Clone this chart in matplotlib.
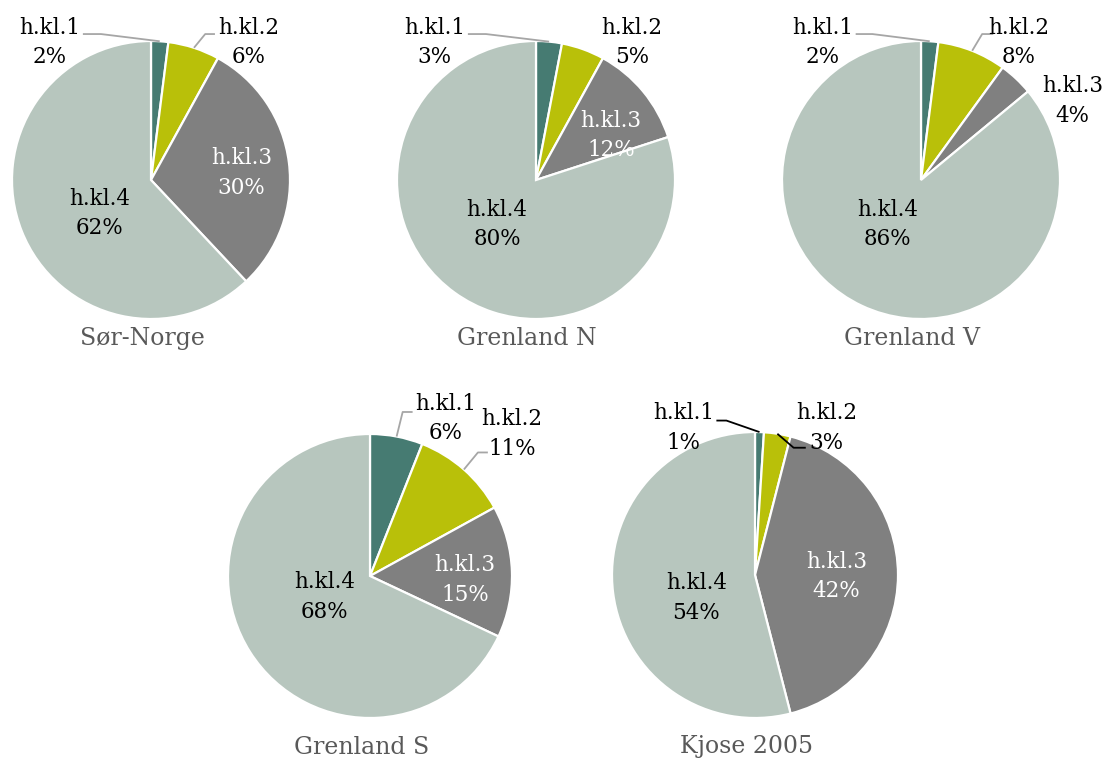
import numpy as np
import matplotlib
matplotlib.use("Agg")
import matplotlib.pyplot as plt

# Share of each class (h.kl.1 .. h.kl.4) per region, in percent
classes = ["h.kl.1", "h.kl.2", "h.kl.3", "h.kl.4"]
regions = ["Sør-Norge", "Grenland N", "Grenland V", "Grenland S", "Kjose 2005"]
sor_norge = [2, 6, 30, 62]
grenland_n = [3, 5, 12, 80]
grenland_v = [2, 8, 4, 86]
grenland_s = [6, 11, 15, 68]
kjose_2005 = [1, 3, 42, 54]
series = [sor_norge, grenland_n, grenland_v, grenland_s, kjose_2005]

colors = ["#467B72", "#B9C009", "#808080", "#B7C6BE"]
text_colors = ["black", "black", "white", "black"]
title_color = "#595959"

W, H = 1104, 763
FONT = "DejaVu Serif"

# Pie placement: (center x, center y, radius) in pixels from top-left
placement = [
    (151, 180, 139),
    (536, 180, 139),
    (921, 180, 139),
    (370, 576, 142),
    (755, 575, 143),
]
title_y = [338, 338, 338, 747, 747]

# Label block centres, in units of the radius relative to the pie centre
label_pos = [
    [(-0.73, 0.99), (0.70, 0.99), (0.65, 0.05), (-0.37, -0.24)],
    [(-0.73, 0.99), (0.69, 0.99), (0.54, 0.32), (-0.28, -0.32)],
    [(-0.71, 0.99), (0.70, 0.99), (1.09, 0.57), (-0.24, -0.32)],
    [(0.53, 1.11), (1.00, 1.00), (0.67, -0.03), (-0.32, -0.15)],
    [(-0.50, 1.03), (0.50, 1.03), (0.57, -0.01), (-0.41, -0.16)],
]
label_color_override = {(2, 2): "black"}

# Leader lines: (slice index, start, elbow, colour)
leaders = [
    [(0, (-0.49, 1.05), (-0.36, 1.05), "#A6A6A6"),
     (1, (0.46, 1.05), (0.39, 1.05), "#A6A6A6")],
    [(0, (-0.49, 1.05), (-0.36, 1.05), "#A6A6A6")],
    [(0, (-0.47, 1.05), (-0.35, 1.05), "#A6A6A6"),
     (1, (0.52, 1.05), (0.44, 1.05), "#A6A6A6")],
    [(0, (0.30, 1.155), (0.23, 1.155), "#A6A6A6"),
     (1, (0.83, 0.87), (0.76, 0.87), "#A6A6A6")],
    [(0, (-0.27, 1.08), (-0.20, 1.08), "black"),
     (1, (0.355, 0.89), (0.27, 0.89), "black")],
]

fig = plt.figure(figsize=(W / 100, H / 100), dpi=100)
fig.patch.set_facecolor("white")

L = 1.6  # axis half-extent in radius units
for i, (vals, (cx, cy, r)) in enumerate(zip(series, placement)):
    ax = fig.add_axes([(cx - L * r) / W, 1 - (cy + L * r) / H,
                       2 * L * r / W, 2 * L * r / H])
    wedges, _ = ax.pie(vals, colors=colors, startangle=90, counterclock=False,
                       radius=1.0,
                       wedgeprops=dict(edgecolor="white", linewidth=1.6))
    ax.set_xlim(-L, L)
    ax.set_ylim(-L, L)
    ax.set_aspect("equal")
    ax.axis("off")

    total = float(sum(vals))
    for j, (cls, v) in enumerate(zip(classes, vals)):
        lx, ly = label_pos[i][j]
        col = label_color_override.get((i, j), text_colors[j])
        ax.text(lx, ly, f"{cls}\n{v}%", ha="center", va="center",
                fontsize=15.5, family=FONT, color=col, linespacing=1.45)

    cum = np.cumsum([0] + list(vals))
    for j, start, elbow, lc in leaders[i]:
        mid = np.deg2rad(90 - 360 * (cum[j] + vals[j] / 2) / total)
        end = (np.cos(mid), np.sin(mid))
        ax.plot([start[0], elbow[0], end[0]], [start[1], elbow[1], end[1]],
                color=lc, lw=1.3, solid_capstyle="butt")

    fig.text(cx / W - 0.008, 1 - title_y[i] / H, regions[i], ha="center",
             va="center", fontsize=17, family=FONT, color=title_color)

fig.savefig("out.png", dpi=100, facecolor="white")
